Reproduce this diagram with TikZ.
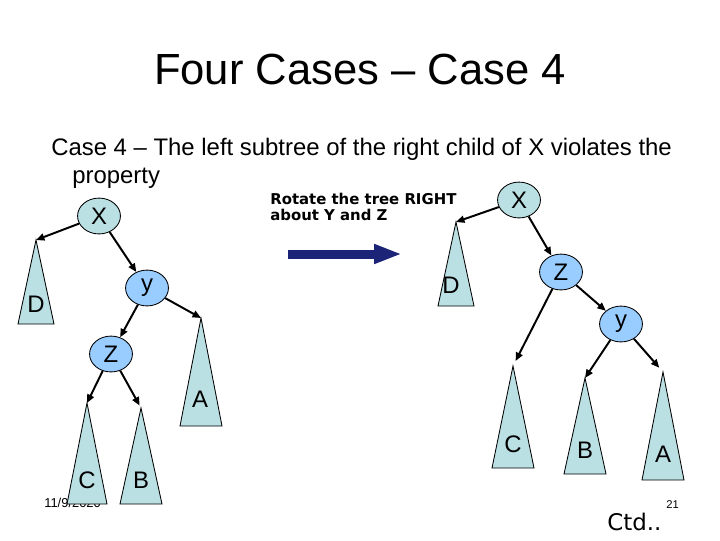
\documentclass[tikz,border=0pt]{standalone}
\usepackage{fontspec}
\setmainfont{Liberation Sans}
\newfontfamily\verdfont{DejaVu Sans}
\usepackage{tikz}
\usetikzlibrary{arrows.meta,shapes.geometric}
\definecolor{subtree}{RGB}{187,224,227}
\definecolor{kidfill}{RGB}{153,204,255}
\definecolor{navy}{RGB}{28,36,120}

\begin{document}
\begin{tikzpicture}[x=0.025cm,y=-0.025cm,
        key/.style = {ellipse, draw=black, line width=0.6pt, inner sep=0pt,
            minimum width=30.5pt, minimum height=25.5pt, font=\fontsize{17}{17}\selectfont},
        root/.style = {key, fill=subtree},
        kid/.style = {key, fill=kidfill},
        tri/.style = {draw=black, line width=0.6pt, fill=subtree},
        lbl/.style = {inner sep=0pt, anchor=base, font=\fontsize{17}{17}\selectfont},
        txt/.style = {inner sep=0pt, anchor=base west},
        edge/.style = {line width=1.4pt, -{Triangle[length=6pt,width=5pt]}}
    ]
        \useasboundingbox (0,0) rectangle (720,540);
        \node[anchor=base, font=\fontsize{31}{31}\selectfont] (title) at (360,84) {Four Cases – Case 4};
        \node[txt, font=\fontsize{17}{17}\selectfont] (case) at (51,155) {Case 4 – The left subtree of the right child of X violates the};
        \node[txt, font=\fontsize{17}{17}\selectfont] (prop) at (72,183) {property};
        \node[txt, font=\verdfont\bfseries\fontsize{10.6}{11}\selectfont] (rot1) at (270,204) {Rotate the tree RIGHT};
        \node[txt, font=\verdfont\bfseries\fontsize{10.6}{11}\selectfont] (rot2) at (270,220) {about Y and Z};
        \node[txt, font=\fontsize{9.2}{10}\selectfont] (date) at (44,507) {11/9/2020};
        \node[txt, font=\fontsize{8}{9}\selectfont] (page) at (666,508) {21};
        \node[txt, font=\verdfont\fontsize{16.3}{17}\selectfont] (ctd) at (607,530) {Ctd..};

        \foreach \n/\t/\x/\y/\b/\w/\lx/\ly in {lD/D/36/240/324/18/36/312, lA/A/201/318/426/21/200/407,
            lC/C/87/403/504/20/87/488, lB/B/141/408/504/21/141/488,
            rD/D/456/222/306/18/451/293, rC/C/513/366/468/21/513/452,
            rB/B/585/378/474/21/585/458, rA/A/663/372/480/21/663/462} {
            \draw[tri] (\x,\y) coordinate (\n) -- (\x-\w,\b) -- (\x+\w,\b) -- cycle;
            \node[lbl] (\n-lab) at (\lx,\ly) {\t};
        }

        \node[root] (lX) at (99,216) {X};
        \node[kid] (lY) at (147,288) {y};
        \node[kid] (lZ) at (111,354) {Z};
        \node[root] (rX) at (519,200) {X};
        \node[kid] (rZ) at (561,272) {Z};
        \node[kid] (rY) at (621,324) {y};

        \foreach \a/\b in {lX/lD, lX/lY, lY/lZ, lY/lA, lZ/lC, rX/rD, rX/rZ, rZ/rY, rY/rB}
            \draw[edge] (\a) -- (\b);
        \draw[edge, shorten >=2pt] (lZ) -- (lB);
        \draw[edge, shorten >=4pt] (rZ) -- (rC);
        \draw[edge, shorten >=4pt] (rY) -- (rA);

        \coordinate (arrS) at (288,254);
        \coordinate (arrE) at (402,254);
        \draw[navy, line width=6.4pt, -{Triangle[length=19.8pt,width=12.8pt]}] (arrS) -- (arrE);
    \end{tikzpicture}
\end{document}
